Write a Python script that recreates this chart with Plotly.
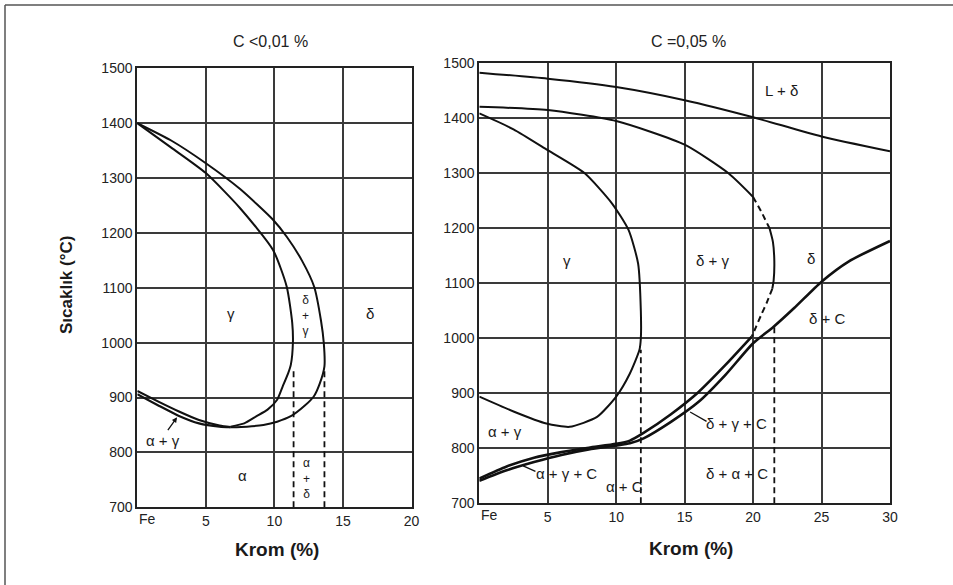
import plotly.graph_objects as go

W, H = 953, 585

# ---------------- data: left panel, C < 0.01 % ----------------
cr_ticks_left = [0, 5, 10, 15, 20]
cr_ticktext_left = ["", "5", "10", "15", "20"]
temp_ticks = [700, 800, 900, 1000, 1100, 1200, 1300, 1400, 1500]

# outer boundary of the gamma loop ((d+g) / d)
loopL_outer_cr = [0, 2.5, 5, 7.5, 9.9, 10.9, 12, 12.9, 13.4, 13.6, 13.65, 13.3, 12.87, 12.2, 11.2, 10.2, 9.2, 8, 6.8]
loopL_outer_t = [1400, 1368, 1327, 1280, 1224, 1193, 1150, 1102, 1040, 1000, 957, 925, 902, 885, 866, 856, 850, 847, 846]
# inner boundary of the gamma loop (g / (d+g))
loopL_inner_cr = [0, 2.5, 5, 7.5, 9.9, 10.9, 11.3, 11.35, 11.2, 11.0, 10.6, 10.2, 9.5, 8.7, 7.8, 6.8]
loopL_inner_t = [1400, 1355, 1309, 1245, 1169, 1102, 1036, 1000, 960, 944, 920, 896, 878, 866, 853, 847]
# narrow alpha+gamma band near pure iron
bandL_up_cr = [0, 1.5, 3, 4.5, 6, 6.8]
bandL_up_t = [912, 893, 875, 859, 849, 846]
bandL_lo_cr = [0, 1.5, 3, 4.5, 6, 6.8]
bandL_lo_t = [906, 886, 867, 853, 847, 846]
# dashed verticals
dashL_1_cr = [11.4, 11.4]
dashL_1_t = [700, 952]
dashL_2_cr = [13.65, 13.65]
dashL_2_t = [700, 955]

# ---------------- data: right panel, C = 0.05 % ----------------
cr_ticks_right = [0, 5, 10, 15, 20, 25, 30]
cr_ticktext_right = ["", "5", "10", "15", "20", "25", "30"]

liq_cr = [0, 5, 10, 15, 20, 25, 30]
liq_t = [1483, 1472, 1457, 1433, 1402, 1367, 1340]

dg_solid1_cr = [0, 5, 10, 15, 18.2, 20]
dg_solid1_t = [1421, 1415, 1395, 1352, 1300, 1257]
dg_dash1_cr = [20, 20.6, 21.2]
dg_dash1_t = [1257, 1230, 1200]
dg_solid2_cr = [21.2, 21.45, 21.55, 21.5, 21.4]
dg_solid2_t = [1200, 1175, 1140, 1105, 1090]
dg_dash2_cr = [21.4, 21.0, 20.6, 20.2, 19.9]
dg_dash2_t = [1090, 1065, 1043, 1020, 1003]

loopR_cr = [0, 2.5, 5, 7.7, 9.7, 10.9, 11.6, 11.8, 11.8, 11.7, 11.0, 10, 8.6, 6.6, 4.9, 2.5, 0]
loopR_t = [1409, 1380, 1342, 1300, 1245, 1197, 1136, 1050, 1000, 979, 936, 894, 857, 839, 845, 867, 894]

# carbide band: lower line runs on to the delta / delta+C boundary
bandR_lo_cr = [0, 2, 4, 6, 8, 10, 11, 12, 14, 16, 18, 20, 21.5, 23, 25, 27, 30]
bandR_lo_t = [741, 760, 775, 788, 798, 805, 809, 818, 848, 884, 934, 991, 1021, 1055, 1103, 1140, 1177]
bandR_up_cr = [0, 2, 4, 6, 8, 10, 11, 12, 14, 16, 18, 19.9]
bandR_up_t = [745, 767, 783, 793, 801, 808, 814, 828, 862, 902, 952, 1003]

dashR_1_cr = [11.8, 11.8]
dashR_1_t = [700, 979]
dashR_2_cr = [21.55, 21.55]
dashR_2_t = [700, 1027]

# ---------------- layout geometry ----------------
def px_x(p):
    return p / W

def px_y(p):
    return 1 - p / H

fig = go.Figure()

INK = "#111111"

def curve(x, y, axis, width=2.0, dash="solid"):
    xa, ya = axis
    fig.add_trace(go.Scatter(
        x=x, y=y, xaxis=xa, yaxis=ya, mode="lines",
        line=dict(color=INK, width=width, dash=dash, shape="spline", smoothing=0.6),
        hoverinfo="skip", showlegend=False))

L = ("x", "y")
R = ("x2", "y2")

curve(loopL_outer_cr, loopL_outer_t, L)
curve(loopL_inner_cr, loopL_inner_t, L)
curve(bandL_up_cr, bandL_up_t, L, width=2.2)
curve(bandL_lo_cr, bandL_lo_t, L, width=2.2)
curve(dashL_1_cr, dashL_1_t, L, width=1.8, dash="6px,4px")
curve(dashL_2_cr, dashL_2_t, L, width=1.8, dash="6px,4px")

curve(liq_cr, liq_t, R)
curve(dg_solid1_cr, dg_solid1_t, R)
curve(dg_dash1_cr, dg_dash1_t, R, dash="6px,4px")
curve(dg_solid2_cr, dg_solid2_t, R)
curve(dg_dash2_cr, dg_dash2_t, R, dash="6px,4px")
curve(loopR_cr, loopR_t, R)
curve(bandR_lo_cr, bandR_lo_t, R, width=2.6)
curve(bandR_up_cr, bandR_up_t, R, width=2.6)
curve(dashR_1_cr, dashR_1_t, R, width=1.8, dash="6px,4px")
curve(dashR_2_cr, dashR_2_t, R, width=1.8, dash="6px,4px")

TICKFONT = dict(family="Liberation Sans, Arial, sans-serif", size=14, color="#222")
GRID = "#3a3a3a"

def xaxis_cfg(domain, rng, vals, text, anchor):
    return dict(domain=domain, range=rng, tickmode="array", tickvals=vals, ticktext=text,
                showgrid=True, gridcolor=GRID, gridwidth=1.7, zeroline=False,
                showline=True, linecolor="#222", linewidth=2, mirror=True,
                ticks="", tickfont=TICKFONT, anchor=anchor, fixedrange=True, automargin=False)

def yaxis_cfg(domain, anchor):
    return dict(domain=domain, range=[700, 1500], tickmode="array", tickvals=temp_ticks,
                showgrid=True, gridcolor=GRID, gridwidth=1.7, zeroline=False,
                showline=True, linecolor="#222", linewidth=2, mirror=True,
                ticks="", tickfont=TICKFONT, anchor=anchor, fixedrange=True, automargin=False)

fig.update_layout(
    width=W, height=H,
    margin=dict(l=0, r=0, t=0, b=0, pad=0),
    paper_bgcolor="white", plot_bgcolor="white",
    xaxis=xaxis_cfg([px_x(137.3), px_x(411.5)], [0, 20], cr_ticks_left, cr_ticktext_left, "y"),
    yaxis=yaxis_cfg([px_y(507.3), px_y(68.3)], "x"),
    xaxis2=xaxis_cfg([px_x(479.3), px_x(890)], [0, 30], cr_ticks_right, cr_ticktext_right, "y2"),
    yaxis2=yaxis_cfg([px_y(503.3), px_y(63.3)], "x2"),
)

LABFONT = dict(family="Liberation Sans, Arial, sans-serif", size=15, color="#1a1a1a")

def label(text, x, y, axis, size=15, **kw):
    xa, ya = axis
    f = dict(LABFONT)
    f["size"] = size
    fig.add_annotation(text=text, x=x, y=y, xref=xa, yref=ya, showarrow=False, font=f,
                       xanchor="center", yanchor="middle", **kw)

# left panel region labels
label("γ", 6.8, 1054, L)
label("δ", 17, 1054, L)
label("α", 7.7, 758, L)
label("δ<br>+<br>γ", 12.25, 1050, L, size=12)
label("α<br>+<br>δ", 12.35, 753, L, size=12)
label("α + γ", 1.85, 822, L)
fig.add_annotation(x=2.9, y=864, ax=2.15, ay=838, xref="x", yref="y", axref="x", ayref="y",
                   text="", showarrow=True, arrowhead=2, arrowsize=0.8, arrowwidth=1.3, arrowcolor=INK)

# right panel region labels
label("L + δ", 22.1, 1451, R)
label("γ", 6.4, 1142, R)
label("δ + γ", 17.0, 1142, R)
label("δ", 24.2, 1145, R)
label("δ + C", 25.4, 1036, R)
label("δ + γ + C", 18.8, 846, R)
label("α + γ", 1.9, 830, R)
label("α + γ + C", 6.4, 755, R)
label("α + C", 10.6, 730, R)
label("δ + α + C", 18.8, 755, R)
# leader lines
fig.add_trace(go.Scatter(x=[15.4, 16.6], y=[866, 849], xaxis="x2", yaxis="y2", mode="lines",
                         line=dict(color=INK, width=1.3), hoverinfo="skip", showlegend=False))
fig.add_trace(go.Scatter(x=[3.2, 4.1], y=[768, 758], xaxis="x2", yaxis="y2", mode="lines",
                         line=dict(color=INK, width=1.3), hoverinfo="skip", showlegend=False))

# "Fe" at the origin of each chromium axis
fig.add_annotation(text="Fe", x=0, y=700, xref="x", yref="y", xanchor="left", yanchor="top",
                   yshift=-2, showarrow=False, font=TICKFONT)
fig.add_annotation(text="Fe", x=0, y=700, xref="x2", yref="y2", xanchor="left", yanchor="top",
                   yshift=-2, showarrow=False, font=TICKFONT)

def paper_text(text, px, py, font, **kw):
    fig.add_annotation(text=text, x=px_x(px), y=px_y(py), xref="paper", yref="paper",
                       xanchor="center", yanchor="middle", showarrow=False, font=font, **kw)

# panel titles
TITLEFONT = dict(family="Liberation Sans, Arial, sans-serif", size=16, color="#222")
paper_text("C <0,01 %", 270, 42, TITLEFONT)
paper_text("C =0,05 %", 688, 42, TITLEFONT)

# axis titles
AXFONT = dict(family="Liberation Sans, Arial, sans-serif", size=19, color="#1a1a1a", weight="bold")
paper_text("Krom (%)", 277, 549, AXFONT)
paper_text("Krom (%)", 691, 548, AXFONT)
paper_text("Sıcaklık (°C)", 66, 285, dict(AXFONT, size=17), textangle=-90)

# outer frame (top and left edges)
fig.add_shape(type="line", xref="paper", yref="paper", x0=px_x(5), x1=1, y0=px_y(5), y1=px_y(5),
              line=dict(color="#555", width=1.5))
fig.add_shape(type="line", xref="paper", yref="paper", x0=px_x(5), x1=px_x(5), y0=px_y(5), y1=0,
              line=dict(color="#555", width=1.5))

fig.write_html("out.html")
